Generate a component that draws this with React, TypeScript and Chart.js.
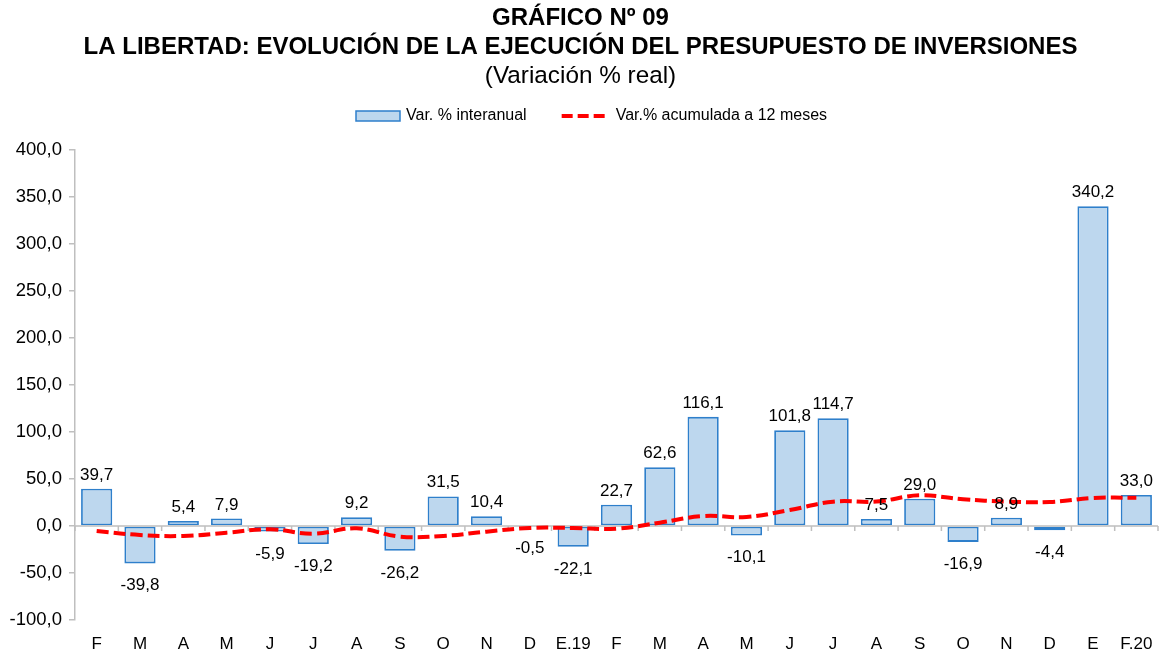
import React, { useEffect, useRef } from 'react';
import { Chart, registerables } from 'chart.js';

Chart.register(...registerables);

const FONT = "'Liberation Sans', Arial, Helvetica, sans-serif";

const titleLines = ['GRÁFICO Nº 09', 'LA LIBERTAD: EVOLUCIÓN DE LA EJECUCIÓN DEL PRESUPUESTO DE INVERSIONES'];
const subtitleText = '(Variación % real)';
const seriesNames = ['Var. % interanual', 'Var.% acumulada a 12 meses'];

const categories = ['F', 'M', 'A', 'M', 'J', 'J', 'A', 'S', 'O', 'N', 'D', 'E.19', 'F', 'M', 'A', 'M', 'J', 'J', 'A', 'S', 'O', 'N', 'D', 'E', 'F.20'];
const interanual = [39.7, -39.8, 5.4, 7.9, -5.9, -19.2, 9.2, -26.2, 31.5, 10.4, -0.5, -22.1, 22.7, 62.6, 116.1, -10.1, 101.8, 114.7, 7.5, 29.0, -16.9, 8.9, -4.4, 340.2, 33.0];
const acumulada = [-5.3, -9.6, -10.6, -7.1, -3.5, -8.2, -2.5, -11.3, -10.6, -6.0, -2.1, -2.1, -2.8, 3.5, 10.6, 9.6, 17.0, 25.9, 26.0, 32.6, 28.4, 26.0, 25.5, 29.8, 30.0];
const yMin = -100;
const yMax = 400;
const yStep = 50;

const BAR_FILL = '#BDD7EE';
const BAR_BORDER = '#2E7FCB';
const LINE_COLOR = '#FF0000';
const AXIS_COLOR = '#BFBFBF';

const fmt = (v: number) => v.toFixed(1).replace('.', ',');

const headerPlugin = {
  id: 'header',
  afterDraw(chart: any) {
    const ctx = chart.ctx;
    const cx = chart.width / 2;
    ctx.save();
    ctx.fillStyle = '#000';
    ctx.textAlign = 'center';
    ctx.textBaseline = 'middle';
    ctx.font = `bold 24px ${FONT}`;
    ctx.fillText(titleLines[0], cx, 18);
    ctx.fillText(titleLines[1], cx, 47);
    ctx.font = `24.3px ${FONT}`;
    ctx.fillText(subtitleText, cx, 76);

    // legend
    const ly = 116;
    ctx.font = `16px ${FONT}`;
    ctx.textAlign = 'left';
    let x = 356;
    ctx.fillStyle = BAR_FILL;
    ctx.strokeStyle = BAR_BORDER;
    ctx.lineWidth = 1.5;
    ctx.fillRect(x, ly - 5, 44, 10);
    ctx.strokeRect(x, ly - 5, 44, 10);
    x += 50;
    ctx.fillStyle = '#000';
    ctx.fillText(seriesNames[0], x, ly);
    x += ctx.measureText(seriesNames[0]).width + 35;
    ctx.strokeStyle = LINE_COLOR;
    ctx.lineWidth = 4;
    ctx.setLineDash([11, 5]);
    ctx.beginPath();
    ctx.moveTo(x, ly);
    ctx.lineTo(x + 43, ly);
    ctx.stroke();
    ctx.setLineDash([]);
    x += 54;
    ctx.fillText(seriesNames[1], x, ly);
    ctx.restore();
  },
};

const zeroAxisPlugin = {
  id: 'zeroAxis',
  afterDatasetDraw(chart: any, args: any) {
    if (args.index !== 0) return;
    const { ctx, chartArea } = chart;
    const xs = chart.scales.x;
    const y0 = chart.scales.y.getPixelForValue(0);
    ctx.save();
    ctx.strokeStyle = AXIS_COLOR;
    ctx.lineWidth = 1.5;
    ctx.beginPath();
    ctx.moveTo(chartArea.left, y0);
    ctx.lineTo(chartArea.right, y0);
    for (let i = 0; i <= categories.length; i++) {
      const bx = xs.getPixelForValue(i - 0.5);
      ctx.moveTo(bx, y0);
      ctx.lineTo(bx, y0 + 5);
    }
    ctx.stroke();
    ctx.restore();
  },
};

const labelPlugin = {
  id: 'barLabels',
  afterDatasetsDraw(chart: any) {
    const { ctx } = chart;
    const meta = chart.getDatasetMeta(0);
    ctx.save();
    ctx.fillStyle = '#000';
    ctx.font = `17px ${FONT}`;
    ctx.textAlign = 'center';
    ctx.textBaseline = 'alphabetic';
    meta.data.forEach((el: any, i: number) => {
      const v = interanual[i];
      const text = fmt(v);
      if (v >= 0) {
        ctx.fillText(text, el.x, el.y - 9);
      } else {
        ctx.fillText(text, el.x, el.y + 27);
      }
    });
    ctx.restore();
  },
};

export default function App() {
  const ref = useRef<HTMLCanvasElement | null>(null);

  useEffect(() => {
    if (!ref.current) return;
    const chart = new Chart(ref.current, {
      type: 'bar',
      data: {
        labels: categories,
        datasets: [
          {
            type: 'bar',
            label: seriesNames[0],
            data: interanual,
            backgroundColor: BAR_FILL,
            borderColor: BAR_BORDER,
            borderWidth: 1.8,
            borderSkipped: false,
            barPercentage: 0.72,
            categoryPercentage: 1,
            order: 1,
          },
          {
            type: 'line',
            label: seriesNames[1],
            data: acumulada,
            borderColor: LINE_COLOR,
            backgroundColor: LINE_COLOR,
            borderWidth: 4,
            borderDash: [12, 5],
            tension: 0.4,
            pointRadius: 0,
            fill: false,
            order: 0,
          },
        ],
      },
      options: {
        responsive: false,
        animation: false,
        layout: { padding: { top: 150, left: 0, right: 3, bottom: 0 } },
        plugins: {
          legend: { display: false },
          title: { display: false },
          tooltip: { enabled: false },
        },
        scales: {
          x: {
            offset: true,
            grid: { display: false },
            border: { display: false },
            ticks: {
              color: '#000',
              font: { family: FONT, size: 17 },
              padding: 6,
              maxRotation: 0,
              autoSkip: false,
            },
            afterFit(scale: any) {
              scale.height = 33;
            },
          },
          y: {
            min: yMin,
            max: yMax,
            grid: {
              display: true,
              drawOnChartArea: false,
              drawTicks: true,
              tickLength: 6,
              color: AXIS_COLOR,
              lineWidth: 1.5,
            },
            border: { display: true, color: AXIS_COLOR, width: 1.5 },
            ticks: {
              stepSize: yStep,
              color: '#000',
              font: { family: FONT, size: 18.5 },
              padding: 7,
              callback: (v: any) => fmt(Number(v)),
            },
            afterFit(scale: any) {
              scale.width = 75;
            },
          },
        },
      },
      plugins: [zeroAxisPlugin, labelPlugin, headerPlugin],
    });
    return () => chart.destroy();
  }, []);

  return (
    <div style={{ position: 'fixed', left: 0, top: 0, width: 1161, height: 653, background: '#fff' }}>
      <canvas ref={ref} width={1161} height={653} style={{ display: 'block' }} />
    </div>
  );
}
